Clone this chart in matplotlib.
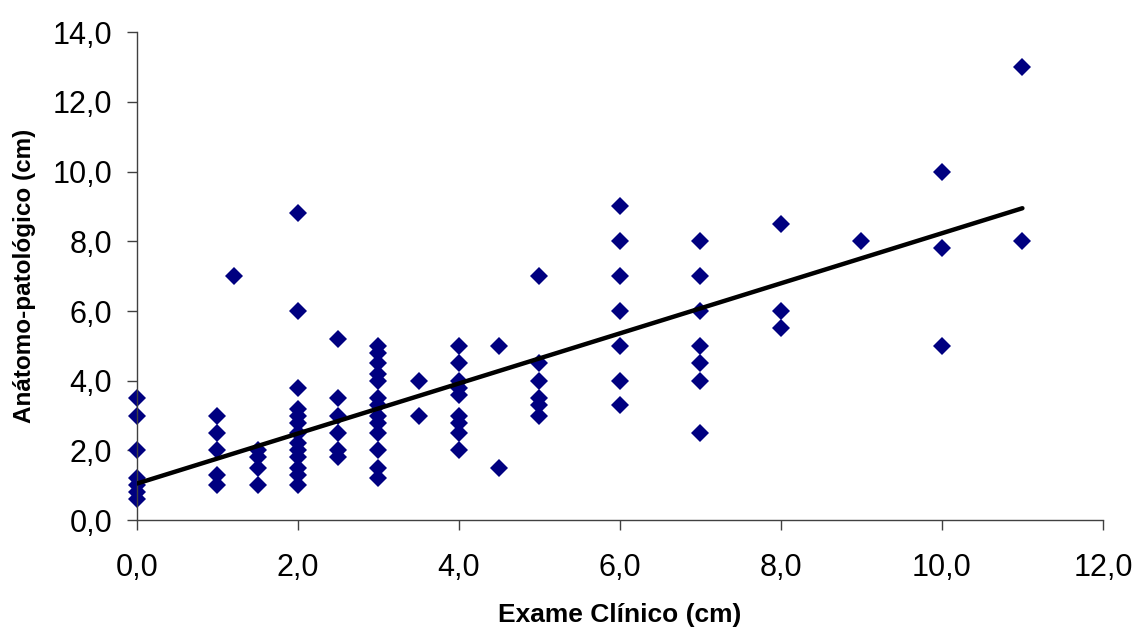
import numpy as np
import matplotlib
matplotlib.use("Agg")
import matplotlib.pyplot as plt
from matplotlib.ticker import FuncFormatter

# valores: exame clínico (x) e anátomo-patológico (y), em cm
exame = [0, 0, 0, 0, 0, 0, 0,
         1, 1, 1, 1, 1,
         1.2,
         1.5, 1.5, 1.5, 1.5,
         2, 2, 2, 2, 2, 2, 2, 2, 2, 2, 2, 2, 2,
         2.5, 2.5, 2.5, 2.5, 2.5, 2.5,
         3, 3, 3, 3, 3, 3, 3, 3, 3, 3, 3, 3, 3,
         3.5, 3.5,
         4, 4, 4, 4, 4, 4, 4, 4, 4,
         4.5, 4.5,
         5, 5, 5, 5, 5, 5,
         6, 6, 6, 6, 6, 6, 6,
         7, 7, 7, 7, 7, 7, 7,
         8, 8, 8,
         9,
         10, 10, 10,
         11, 11]
anatomo = [3.5, 3.0, 2.0, 1.2, 1.0, 0.8, 0.6,
           3.0, 2.5, 2.0, 1.3, 1.0,
           7.0,
           2.0, 1.8, 1.5, 1.0,
           8.8, 6.0, 3.8, 3.2, 3.0, 2.8, 2.5, 2.2, 2.0, 1.8, 1.5, 1.3, 1.0,
           5.2, 3.5, 3.0, 2.5, 2.0, 1.8,
           5.0, 4.8, 4.5, 4.2, 4.0, 3.5, 3.3, 3.0, 2.8, 2.5, 2.0, 1.5, 1.2,
           4.0, 3.0,
           5.0, 4.5, 4.0, 3.8, 3.6, 3.0, 2.8, 2.5, 2.0,
           5.0, 1.5,
           7.0, 4.5, 4.0, 3.5, 3.3, 3.0,
           9.0, 8.0, 7.0, 6.0, 5.0, 4.0, 3.3,
           8.0, 7.0, 6.0, 5.0, 4.5, 4.0, 2.5,
           8.5, 6.0, 5.5,
           8.0,
           10.0, 7.8, 5.0,
           13.0, 8.0]

tend_x = [0, 11]
tend_y = [1.05, 8.95]

plt.rcParams['font.family'] = ['Liberation Sans', 'DejaVu Sans']

fig = plt.figure(figsize=(11.37, 6.32), dpi=100)
ax = fig.add_axes([0.1205, 0.177, 0.8495, 0.772])

ax.plot(exame, anatomo, linestyle='none', marker='D', markersize=8.8,
        color='#000080', markeredgewidth=0, zorder=2, clip_on=False)
ax.plot(tend_x, tend_y, color='black', linewidth=3.2, solid_capstyle='round', zorder=3)

ax.set_xlim(0, 12)
ax.set_ylim(0, 14)
ax.set_xticks(np.arange(0, 13, 2))
ax.set_yticks(np.arange(0, 15, 2))
fmt = FuncFormatter(lambda v, p: f"{v:.1f}".replace('.', ','))
ax.xaxis.set_major_formatter(fmt)
ax.yaxis.set_major_formatter(fmt)

ax.spines['top'].set_visible(False)
ax.spines['right'].set_visible(False)
for s in ('left', 'bottom'):
    ax.spines[s].set_color('#404040')
    ax.spines[s].set_linewidth(1)

ax.tick_params(axis='both', direction='out', length=7, width=1, color='#404040',
               labelsize=22)
ax.tick_params(axis='x', pad=17)
ax.tick_params(axis='y', pad=11)

ax.set_xlabel('Exame Clínico (cm)', fontsize=19, fontweight='bold', labelpad=14)
ax.set_ylabel('Anátomo-patológico (cm)', fontsize=17.5, fontweight='bold', labelpad=12)

fig.savefig('out.png', dpi=100)
